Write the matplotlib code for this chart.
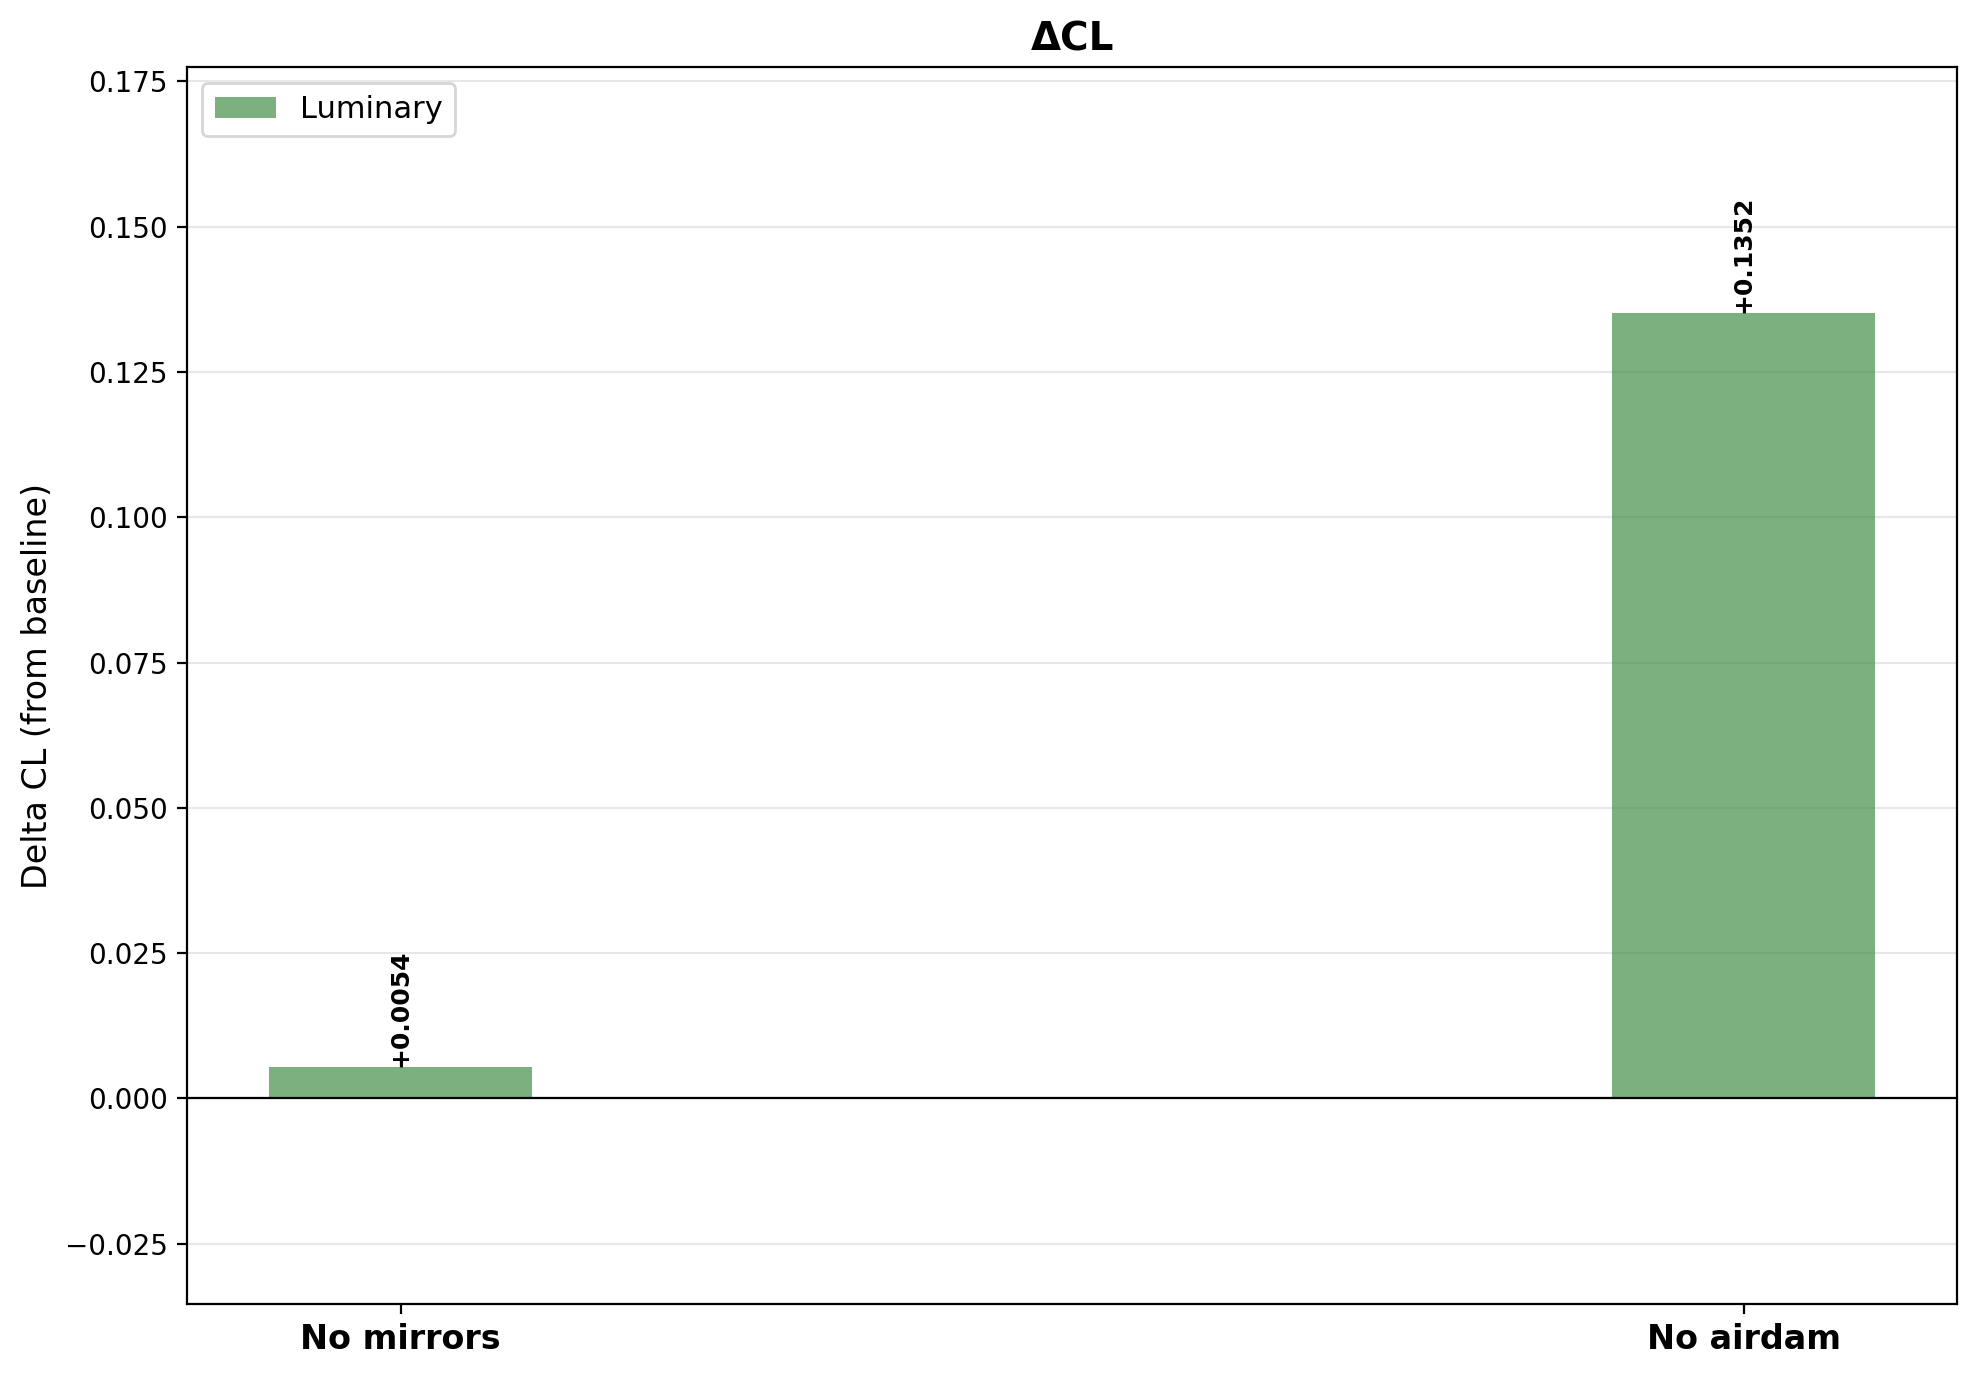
import matplotlib
matplotlib.use('Agg')
import matplotlib.pyplot as plt
import numpy as np

configs = ['No mirrors', 'No airdam']
delta_cl = [0.0054, 0.1352]
series_name = 'Luminary'

x = np.arange(len(configs))
width = 0.196

fig, ax = plt.subplots(figsize=(9.885, 6.885), dpi=200)
ax.set_axisbelow(True)
ax.grid(axis='y', alpha=0.3)

bars = ax.bar(x, delta_cl, width, color='#3a8a40', alpha=0.67, label=series_name)
for b, v in zip(bars, delta_cl):
    ax.text(b.get_x() + b.get_width() / 2, b.get_height(), f'{v:+.4f}',
            ha='center', va='bottom', rotation=90, fontsize=9, fontweight='bold')

ax.axhline(0, color='black', linewidth=0.8)
ax.set_xlim(-0.159, 1.159)
ax.set_ylim(-0.0354, 0.1774)
ax.set_xticks(x)
ax.set_xticklabels(configs, fontsize=12, fontweight='bold')
ax.set_ylabel('Delta CL (from baseline)', fontsize=12)
ax.set_title('ΔCL', fontsize=14, fontweight='bold')
ax.legend(loc='upper left', fontsize=11)

plt.subplots_adjust(left=0.0946, right=0.990, top=0.951, bottom=0.053)
plt.savefig('out.png', dpi=200)
